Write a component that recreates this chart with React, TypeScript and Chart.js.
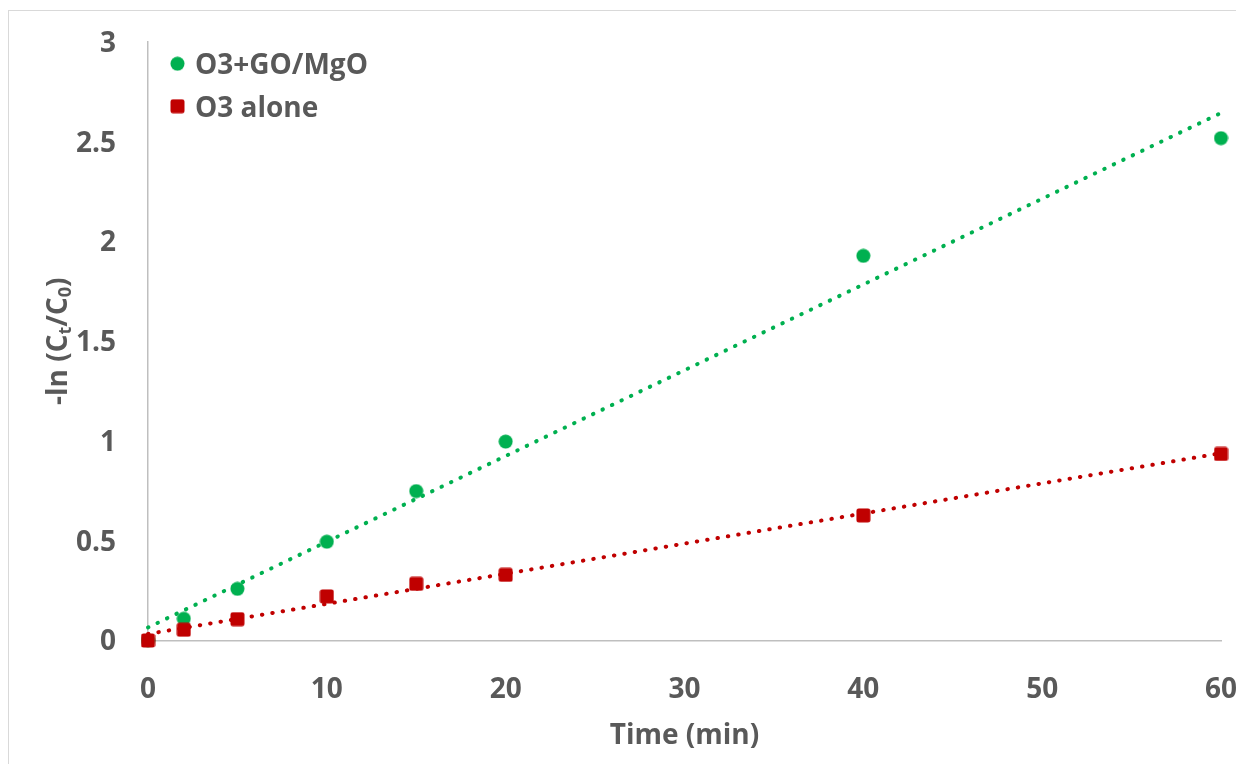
import React, { useEffect, useRef } from "react";
import { Chart, registerables } from "chart.js";

Chart.register(...registerables);

// ---- data ----
const timeMin = [0, 2, 5, 10, 15, 20, 40, 60];
const goMgOValues = [0, 0.109, 0.259, 0.495, 0.749, 0.997, 1.928, 2.518];
const o3AloneValues = [0, 0.054, 0.107, 0.221, 0.284, 0.329, 0.627, 0.935];
const seriesLabels = ["O3+GO/MgO", "O3 alone"];
const xTickLabels = ["0", "10", "20", "30", "40", "50", "60"];
const yTickLabels = ["0", "0.5", "1", "1.5", "2", "2.5", "3"];
const xTitle = "Time (min)";
const yTitleParts = [
  { t: "-ln (C", sub: false },
  { t: "t", sub: true },
  { t: "/C", sub: false },
  { t: "0", sub: true },
  { t: ")", sub: false },
];

const GREEN = "#00B050";
const RED = "#C00000";
const TEXT = "#595959";
const AXIS = "#BFBFBF";
const FONT = "'Open Sans', 'DejaVu Sans', sans-serif";

// least-squares linear trendline (as the spreadsheet trendline does)
function fit(xs: number[], ys: number[]) {
  const n = xs.length;
  const mx = xs.reduce((a, b) => a + b, 0) / n;
  const my = ys.reduce((a, b) => a + b, 0) / n;
  let sxy = 0;
  let sxx = 0;
  for (let i = 0; i < n; i++) {
    sxy += (xs[i] - mx) * (ys[i] - my);
    sxx += (xs[i] - mx) * (xs[i] - mx);
  }
  const m = sxy / sxx;
  const b = my - m * mx;
  const x0 = xs[0];
  const x1 = xs[xs.length - 1];
  return [
    { x: x0, y: b + m * x0 },
    { x: x1, y: b + m * x1 },
  ];
}

function makeMarker(kind: "circle" | "square", color: string) {
  const c = document.createElement("canvas");
  c.width = 15;
  c.height = 15;
  const g = c.getContext("2d")!;
  g.fillStyle = color;
  g.beginPath();
  if (kind === "circle") {
    g.arc(7.5, 7.5, 7, 0, Math.PI * 2);
  } else {
    (g as any).roundRect(0.5, 0.5, 14, 14, 2.5);
  }
  g.fill();
  return c;
}

export default function App() {
  const ref = useRef<HTMLCanvasElement | null>(null);

  useEffect(() => {
    if (!ref.current) return;
    const greenMarker = makeMarker("circle", GREEN);
    const redMarker = makeMarker("square", RED);

    const legendPlugin = {
      id: "insideLegend",
      afterDraw(chart: any) {
        const { ctx, chartArea } = chart;
        const items = [
          { label: seriesLabels[0], img: greenMarker },
          { label: seriesLabels[1], img: redMarker },
        ];
        ctx.save();
        ctx.font = `bold 28px ${FONT}`;
        ctx.fillStyle = TEXT;
        ctx.textBaseline = "alphabetic";
        ctx.textAlign = "left";
        items.forEach((it, i) => {
          const cy = chartArea.top + 21.7 + i * 42.5;
          const cx = chartArea.left + 29.5;
          ctx.drawImage(it.img, cx - 7.5, cy - 7.5);
          ctx.fillText(it.label, chartArea.left + 47, cy + 10.5);
        });
        ctx.restore();
      },
    };

    const yTitlePlugin = {
      id: "yTitleSub",
      afterDraw(chart: any) {
        const { ctx, chartArea } = chart;
        const mainFont = `bold 28px ${FONT}`;
        const subFont = `bold 18px ${FONT}`;
        ctx.save();
        let total = 0;
        const widths = yTitleParts.map((p) => {
          ctx.font = p.sub ? subFont : mainFont;
          const w = ctx.measureText(p.t).width;
          total += w;
          return w;
        });
        const cy = (chartArea.top + chartArea.bottom) / 2;
        const bx = chartArea.left - 81.5;
        ctx.translate(bx, cy);
        ctx.rotate(-Math.PI / 2);
        ctx.fillStyle = TEXT;
        ctx.textBaseline = "alphabetic";
        ctx.textAlign = "left";
        let x = -total / 2;
        yTitleParts.forEach((p, i) => {
          ctx.font = p.sub ? subFont : mainFont;
          ctx.fillText(p.t, x, p.sub ? 4 : 0);
          x += widths[i];
        });
        ctx.restore();
      },
    };

    const toPts = (ys: number[]) => timeMin.map((x, i) => ({ x, y: ys[i] }));

    const chart = new Chart(ref.current, {
      type: "scatter",
      data: {
        datasets: [
          {
            label: seriesLabels[0] + " trend",
            data: fit(timeMin, goMgOValues),
            showLine: true,
            borderColor: GREEN,
            borderWidth: 4,
            borderDash: [0.5, 10],
            borderCapStyle: "round",
            pointRadius: 0,
            pointHoverRadius: 0,
            clip: false as any,
            order: 0,
          } as any,
          {
            label: seriesLabels[1] + " trend",
            data: fit(timeMin, o3AloneValues),
            showLine: true,
            borderColor: RED,
            borderWidth: 4,
            borderDash: [0.5, 10],
            borderCapStyle: "round",
            pointRadius: 0,
            pointHoverRadius: 0,
            clip: false as any,
            order: 1,
          } as any,
          {
            label: seriesLabels[1],
            data: toPts(o3AloneValues),
            pointStyle: redMarker,
            pointRadius: 7,
            pointHoverRadius: 7,
            backgroundColor: RED,
            borderColor: RED,
            showLine: false,
            clip: false as any,
            order: 2,
          } as any,
          {
            label: seriesLabels[0],
            data: toPts(goMgOValues),
            pointStyle: greenMarker,
            pointRadius: 7,
            pointHoverRadius: 7,
            backgroundColor: GREEN,
            borderColor: GREEN,
            showLine: false,
            clip: false as any,
            order: 3,
          } as any,
        ],
      },
      options: {
        animation: false,
        responsive: false,
        maintainAspectRatio: false,
        events: [],
        layout: { padding: { top: 31, right: 15, left: 0, bottom: 0 } },
        plugins: {
          legend: { display: false },
          tooltip: { enabled: false },
        },
        scales: {
          x: {
            type: "linear",
            min: 0,
            max: 60,
            grid: { display: false, drawTicks: false },
            border: { display: true, color: AXIS, width: 1.5 },
            ticks: {
              stepSize: 10,
              padding: 33,
              color: TEXT,
              font: { family: FONT, size: 28, weight: "bold" },
              callback: (_v: any, i: number) => xTickLabels[i],
              maxRotation: 0,
            },
            title: {
              display: true,
              text: xTitle,
              color: TEXT,
              font: { family: FONT, size: 28, weight: "bold" },
              padding: { top: 0, bottom: 11 },
            },
            afterFit: (s: any) => {
              s.height = 123.5;
              s.paddingLeft = 0;
              s.paddingRight = 0;
            },
          },
          y: {
            type: "linear",
            min: 0,
            max: 3,
            grid: { display: false, drawTicks: false },
            border: { display: true, color: AXIS, width: 1.5 },
            ticks: {
              stepSize: 0.5,
              padding: 32,
              labelOffset: 2,
              color: TEXT,
              font: { family: FONT, size: 28, weight: "bold" },
              callback: (_v: any, i: number) => yTickLabels[i],
            },
            afterFit: (s: any) => {
              s.width = 139;
              s.paddingTop = 0;
              s.paddingBottom = 0;
            },
          },
        },
      } as any,
      plugins: [legendPlugin, yTitlePlugin],
    });

    return () => chart.destroy();
  }, []);

  return (
    <div
      style={{
        marginTop: 2,
        borderTop: "1px solid #D9D9D9",
        borderLeft: "1px solid #D9D9D9",
        width: 1227,
        height: 753,
        background: "#fff",
      }}
    >
      <canvas
        ref={ref}
        width={1227}
        height={753}
        style={{ display: "block", width: 1227, height: 753 }}
      />
    </div>
  );
}
